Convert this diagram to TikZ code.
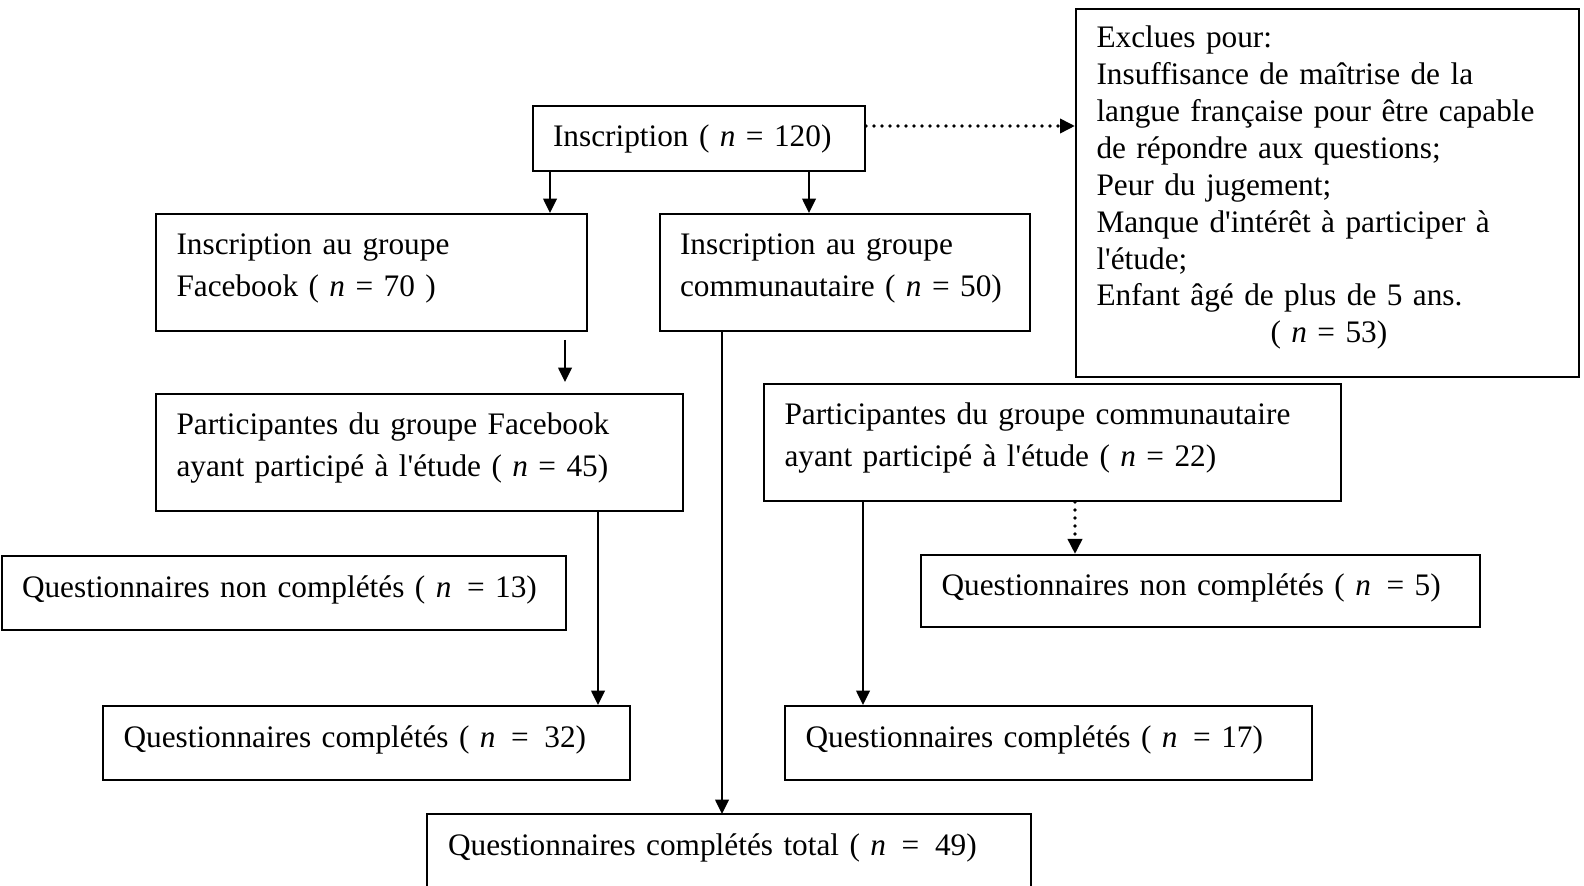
\documentclass[tikz,border=0pt]{standalone}
\usepackage{fontspec}
\setmainfont{Liberation Serif}[Ligatures=TeXOff]
\usetikzlibrary{arrows.meta,calc}
\newcommand\oneline[1]{\mbox{#1}}
\newcommand\lowerdepth[1]{\rule[-#1]{0pt}{0pt}}
\tikzset{
  box/.style={draw, line width=1pt, anchor=north west, inner xsep=10pt, inner ysep=0pt,
    align=left, font=\fontsize{15.65}{21.2}\selectfont},
  oneline/.style={text depth=6.2pt},
  arr/.style={line width=1pt, -{Triangle[length=7.2pt,width=6.8pt]}},
  dotarr/.style={line width=1.8pt, line cap=round, dash pattern=on 0pt off 4pt,
    -{Triangle[length=7.5pt,width=7pt]}},
}
\begin{document}
\begin{tikzpicture}[x=0.5pt,y=-0.5pt]
\useasboundingbox (0,0) rectangle (1584,886);
\node[box, minimum width=166pt, minimum height=32.5pt, text width=146pt] (ins) at (532,105)
  {\oneline{Inscription ( \textit{n} = 120)}};
\node[box, minimum width=251.5pt, minimum height=184pt, text width=231pt,
  font=\fontsize{15.65}{18.45}\selectfont] (excl) at (1075,8)
  {\oneline{Exclues pour:}\\
   \oneline{Insuffisance de maîtrise de la}\\
   \oneline{langue française pour être capable}\\
   \oneline{de répondre aux questions;}\\
   \oneline{Peur du jugement;}\\
   \oneline{Manque d'intérêt à participer à}\\
   \oneline{l'étude;}\\
   \oneline{Enfant âgé de plus de 5 ans.}\\
   \oneline{\hspace*{87pt}( \textit{n} = 53)\lowerdepth{8.6pt}}};
\node[box, minimum width=215.5pt, minimum height=58.5pt, text width=195pt] (fb) at (155,213)
  {\oneline{Inscription au groupe}\\ \oneline{Facebook ( \textit{n} = 70 )\lowerdepth{7.6pt}}};
\node[box, minimum width=185pt, minimum height=58.5pt, text width=165pt] (com) at (659,213)
  {\oneline{Inscription au groupe}\\ \oneline{communautaire ( \textit{n} = 50)\lowerdepth{7.6pt}}};
\node[box, minimum width=263.5pt, minimum height=58.5pt, text width=243pt] (pfb) at (155,393)
  {\oneline{Participantes du groupe Facebook}\\ \oneline{ayant participé à l'étude ( \textit{n} = 45)\lowerdepth{7.6pt}}};
\node[box, minimum width=288.5pt, minimum height=58.5pt, text width=268pt] (pcom) at (763,383)
  {\oneline{Participantes du groupe communautaire}\\ \oneline{ayant participé à l'étude ( \textit{n} = 22)\lowerdepth{7.6pt}}};
\node[box, oneline, minimum width=282pt, minimum height=37pt, text width=262pt] (non13) at (1,555)
  {\oneline{Questionnaires non complétés ( \textit{n}\ \,= 13)}};
\node[box, oneline, minimum width=279.5pt, minimum height=36pt, text width=259pt] (non5) at (920,554)
  {\oneline{Questionnaires non complétés ( \textit{n}\ \,= 5)}};
\node[box, oneline, minimum width=263.5pt, minimum height=37pt, text width=243pt] (c32) at (102,705)
  {\oneline{Questionnaires complétés ( \textit{n}\ \,=\ \,32)}};
\node[box, oneline, minimum width=263.5pt, minimum height=37pt, text width=243pt] (c17) at (784,705)
  {\oneline{Questionnaires complétés ( \textit{n}\ \,= 17)}};
\node[box, draw=none, minimum width=301pt, minimum height=33pt, text width=281pt] (tot) at (427,814)
  {\oneline{Questionnaires complétés total ( \textit{n}\ \,=\ \,49)}};
\draw[line width=1pt] (tot.north west) rectangle ($(tot.south east)+(0,60)$);
% connectors
\coordinate (xa) at (550,0);
\coordinate (xb) at (809,0);
\coordinate (xc) at (565,0);
\coordinate (yd) at (0,126);
\coordinate (xe) at (598,0);
\coordinate (xf) at (722,0);
\coordinate (xg) at (863,0);
\coordinate (xh) at (1075,0);
\draw[arr] (ins.south -| xa) -- (fb.north -| xa);
\draw[arr] (ins.south -| xb) -- (com.north -| xb);
\draw[arr, shorten <=4pt, shorten >=5.5pt] (fb.south -| xc) -- (pfb.north -| xc);
\draw[dotarr] (ins.east |- yd) -- (excl.west |- yd);
\draw[arr] (pfb.south -| xe) -- (c32.north -| xe);
\draw[arr] (com.south -| xf) -- (tot.north -| xf);
\draw[arr] (pcom.south -| xg) -- (c17.north -| xg);
\draw[dotarr] (pcom.south -| xh) -- (non5.north -| xh);
\end{tikzpicture}
\end{document}
